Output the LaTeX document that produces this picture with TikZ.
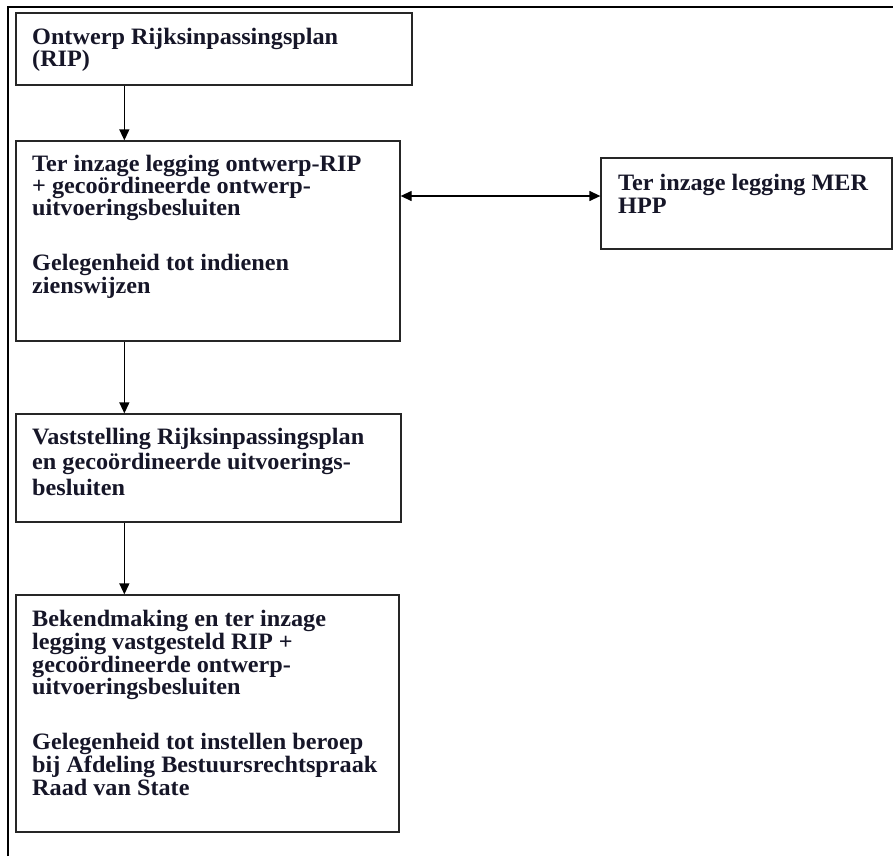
\documentclass[tikz,border=0pt]{standalone}
\usepackage{fontspec}
\setmainfont{Liberation Serif}[FakeStretch=1.03]
\usetikzlibrary{arrows.meta}
\definecolor{ink}{RGB}{22,22,40}
\begin{document}
\begin{tikzpicture}[x=1pt,y=1pt,
  box/.style={draw=black!85, line width=1.3pt, fill=white, rectangle, inner sep=0pt},
  txt/.style={anchor=base west, align=left, inner sep=0pt, text=ink},
  lead/.style={font=\fontsize{23.5}{#1}\selectfont\bfseries},
  arr/.style={line width=1.3pt, -{Triangle[length=11pt,width=10pt]}},
  dbl/.style={line width=1.3pt, {Triangle[length=11pt,width=10pt]}-{Triangle[length=11pt,width=10pt]}}]
\useasboundingbox (0,0) rectangle (893,-856);
\draw[line width=2.6pt] (8,-856) -- (8,-7) -- (893,-7);
\node[box, minimum width=396pt, minimum height=72pt] (b1) at (214,-49) {};
\node[box, minimum width=384pt, minimum height=200pt] (b2) at (208,-241) {};
\node[box, minimum width=291pt, minimum height=91pt] (mer) at (746.5,-203.5) {};
\node[box, minimum width=385pt, minimum height=108pt] (b3) at (208.5,-468) {};
\node[box, minimum width=383pt, minimum height=237pt] (b4) at (207.5,-713.5) {};
\node[txt, lead=21] (t1) at (32,-66.5) {Ontwerp Rijksinpassingsplan\\(RIP)};
\node[txt, lead=22.3] (t2) at (32,-293.2) {Ter inzage legging ontwerp-RIP\\+ gecoördineerde ontwerp-\\uitvoeringsbesluiten\\[32pt]Gelegenheid tot indienen\\[0.7pt]zienswijzen};
\node[txt, lead=23] (tm) at (618,-213.5) {Ter inzage legging MER\\HPP};
\node[txt, lead=25.5] (t3) at (32,-495) {Vaststelling Rijksinpassingsplan\\en gecoördineerde uitvoerings-\\besluiten};
\node[txt, lead=22.7] (t4) at (32,-795) {Bekendmaking en ter inzage\\legging vastgesteld RIP +\\gecoördineerde ontwerp-\\uitvoeringsbesluiten\\[32pt]Gelegenheid tot instellen beroep\\bij Afdeling Bestuursrechtspraak\\Raad van State};
\draw[arr] ([xshift=109pt]b1.south west) -- ([xshift=109pt]b2.north west);
\draw[arr] ([xshift=109pt]b2.south west) -- ([xshift=109pt]b3.north west);
\draw[arr] ([xshift=109pt]b3.south west) -- ([xshift=109pt]b4.north west);
\draw[dbl] ([yshift=7.5pt]mer.west -| b2.east) -- ([yshift=7.5pt]mer.west);
\end{tikzpicture}
\end{document}
